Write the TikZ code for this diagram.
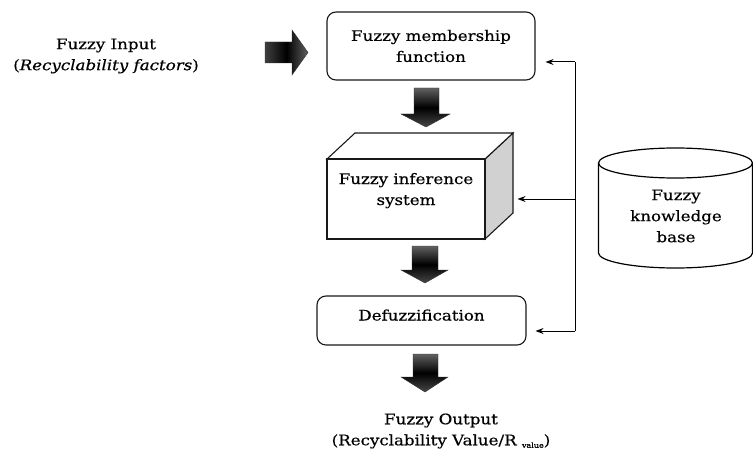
\documentclass[tikz,border=0pt]{standalone}
\usepackage{fontspec}
\setmainfont{DejaVu Serif}[FakeStretch=1.15, FakeBold=0.45]
\usetikzlibrary{arrows.meta,calc}
\begin{document}
\begin{tikzpicture}[x=1pt,y=-1pt,
  txt/.style={font=\fontsize{14.5}{21}\selectfont, align=center, inner sep=0pt},
  rbox/.style={draw=black!90, line width=1.1pt, rounded corners=9pt, inner sep=0pt, fill=white},
  fbox/.style={draw=black!90, line width=1.1pt, inner sep=0pt, fill=white},
  feed/.style={line width=1pt, -{Stealth[length=8pt,width=6pt]}},
  blockv/.style={draw=black!80, line width=0.4pt, top color=black!62, bottom color=black!72, middle color=black},
  blockh/.style={draw=black!80, line width=0.4pt, left color=black!75, right color=black!62, middle color=black}
]
\useasboundingbox (0,0) rectangle (753,452);

% input text and arrow
\node[txt] (in) at (106,56) {Fuzzy Input\\(\textit{Recyclability factors})};
\path[blockh] (265,42) -- (292,42) -- (292,30) -- (308,52.5) -- (292,75) -- (292,63) -- (265,63) -- cycle;

% membership function
\node[rbox, minimum width=208pt, minimum height=68pt, txt] (fmf) at (431,46) {Fuzzy membership\\function};
\path[blockv] (414,88) -- (439,88) -- (439,114) -- (450,114) -- (426,127) -- (401,114) -- (414,114) -- cycle;

% inference system (box)
\path[draw=black!90, line width=1.1pt, fill=black!18] (485,159) -- (513,133) -- (513,213) -- (485,239) -- cycle;
\path[draw=black!90, line width=1.1pt, fill=white] (327,159) -- (355,133) -- (513,133) -- (485,159) -- cycle;
\node[fbox, minimum width=158pt, minimum height=80pt, txt] (fis) at (406,199) {Fuzzy inference\\system\\[-1pt]\mbox{}};
\path[blockv] (412,246) -- (438,246) -- (438,270) -- (448,270) -- (425,283) -- (401,270) -- (412,270) -- cycle;

% defuzzification
\node[rbox, minimum width=209pt, minimum height=49pt, txt] (def) at (421.5,320.5) {Defuzzification\\[-10pt]\mbox{}};
\path[blockv] (413,354) -- (438,354) -- (438,377) -- (448,377) -- (425,392) -- (401,377) -- (413,377) -- cycle;

% output text
\node[txt] (out) at (441,431) {Fuzzy Output\\(Recyclability Value/R \raisebox{-2.5pt}{\fontsize{7}{7}\selectfont value})};

% knowledge base cylinder
\draw[line width=1.2pt, fill=white] (598.5,163) -- (598.5,253) arc[start angle=180, end angle=0, x radius=77, y radius=15] -- (752.5,163);
\draw[line width=1.2pt] (675.5,163) ellipse[x radius=77, y radius=15];
\node[txt] (kb) at (676,216) {Fuzzy\\knowledge\\base};

% feedback lines
\coordinate (c1) at (575,62);
\coordinate (c2) at (575,199);
\coordinate (c3) at (575,331);
\draw[line width=1pt] (c1) -- (c3);
\draw[feed, shorten >=10pt] (c1) -- (c1 -| fmf.east);
\draw[feed, shorten >=32pt] (c2) -- (c2 -| fis.east);
\draw[feed, shorten >=9pt] (c3) -- (c3 -| def.east);
\end{tikzpicture}
\end{document}
